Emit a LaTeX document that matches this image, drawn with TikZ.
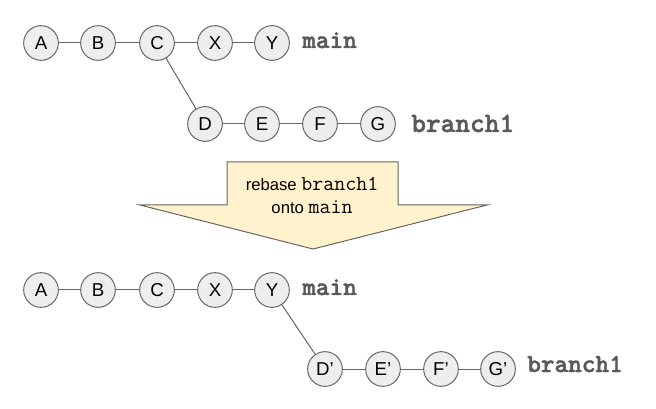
\documentclass[tikz,border=0pt]{standalone}
\usepackage{fontspec}
\setmainfont{Liberation Sans}
\newfontfamily\reffont{lmmonolt10-bold.otf}[FakeBold=1.6]
\definecolor{linegray}{HTML}{666666}
\definecolor{commitfill}{HTML}{EEEEEE}
\definecolor{labelgray}{HTML}{595959}
\definecolor{arrowfill}{HTML}{FFF2CC}
\tikzset{
  commit/.style={circle,draw=linegray,fill=commitfill,line width=0.75pt,
    minimum size=26pt,inner sep=0pt,font=\fontsize{14}{16}\selectfont},
  reflabel/.style={anchor=base west,inner sep=0pt,text=labelgray,
    font=\fontsize{19.5}{22}\reffont},
  rebaseline/.style={anchor=base,inner sep=0pt,font=\fontsize{12.5}{15}\selectfont},
  edge/.style={draw=linegray,line width=0.75pt}
}
\newcommand{\code}[1]{{\fontsize{16}{15}\ttfamily #1}}
\begin{document}
\begin{tikzpicture}[x=0.75pt,y=-0.75pt]
      \useasboundingbox (0,0) rectangle (656,409);
      % before the rebase
      \draw
        (41,43) node[commit] (A){A}
        (98,43) node[commit] (B){B}
        (157,43) node[commit] (C){C}
        (215,43) node[commit] (X){X}
        (272,43) node[commit] (Y){Y}
        (205,124) node[commit] (D){D}
        (262,124) node[commit] (E){E}
        (320,124) node[commit] (F){F}
        (378,124) node[commit] (G){G};
      \node[reflabel] (main) at (302,48) {main};
      \node[reflabel,font=\fontsize{21}{24}\reffont]
        (branch) at (411,132) {branch1};
      \begin{scope}[edge]
        \draw (A) to (B);
        \draw (B) to (C);
        \draw (C) to (X);
        \draw (X) to (Y);
        \draw (C) to (D);
        \draw (D) to (E);
        \draw (E) to (F);
        \draw (F) to (G);
      \end{scope}
      % the rebase arrow
      \draw[draw=linegray,fill=arrowfill,line width=0.75pt]
        (227,162) -- (398,162) -- (398,205) -- (487,205) -- (313,249)
        -- (140,205) -- (227,205) -- cycle;
      \node[rebaseline] (rebase) at (312,191) {rebase \code{branch1}};
      \node[rebaseline] (onto) at (312,214) {onto \code{main}};
      % after the rebase
      \draw
        (41,290) node[commit] (A2){A}
        (98,290) node[commit] (B2){B}
        (157,290) node[commit] (C2){C}
        (215,290) node[commit] (X2){X}
        (272,290) node[commit] (Y2){Y}
        (325,369) node[commit] (D2){D'}
        (383,369) node[commit] (E2){E'}
        (441,369) node[commit] (F2){F'}
        (498,369) node[commit] (G2){G'};
      \node[reflabel] (main2) at (302,295) {main};
      \node[reflabel] (branch2) at (527,372) {branch1};
      \begin{scope}[edge]
        \draw (A2) to (B2);
        \draw (B2) to (C2);
        \draw (C2) to (X2);
        \draw (X2) to (Y2);
        \draw (Y2) to (D2);
        \draw (D2) to (E2);
        \draw (E2) to (F2);
        \draw (F2) to (G2);
      \end{scope}
    \end{tikzpicture}
\end{document}
